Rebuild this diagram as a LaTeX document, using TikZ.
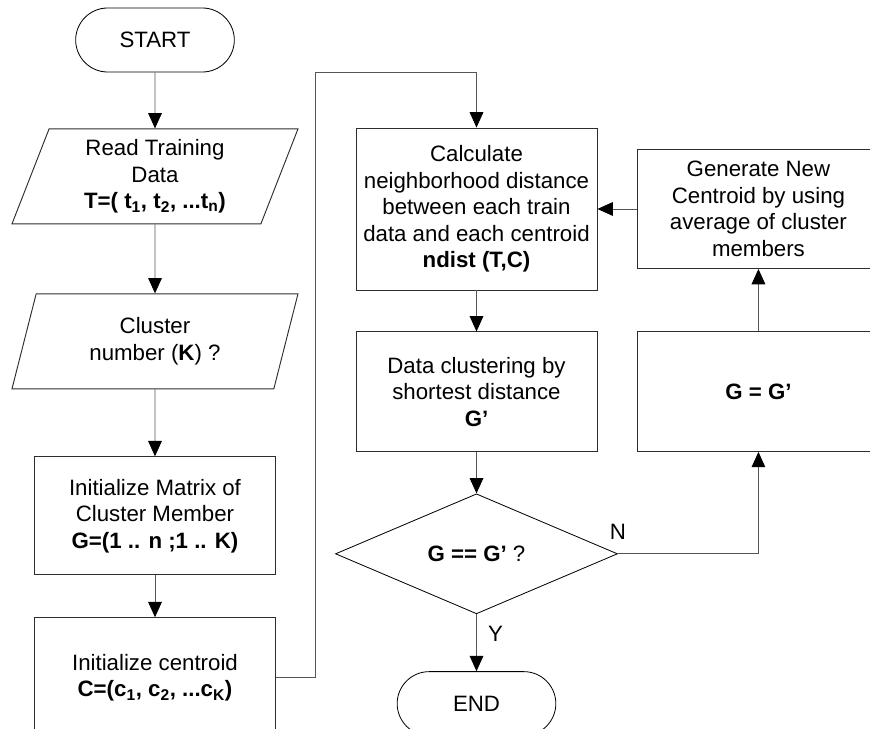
\documentclass[tikz,border=0pt]{standalone}
\usepackage{fontspec}
\setmainfont{Liberation Sans}
\usetikzlibrary{arrows.meta,positioning,shapes.geometric,shapes.misc}
\definecolor{linegray}{RGB}{85,85,85}
\definecolor{boxgray}{RGB}{45,45,45}

\begin{document}
\begin{tikzpicture}[
    x=0.3mm, y=-0.3mm,
    >={Triangle[length=4.6mm, width=4.1mm, color=black]},
    font=\fontsize{19}{22.6}\selectfont,
    every node/.style={inner sep=1pt},
    flow/.style={->, draw=linegray, line width=0.8pt},
    term/.style={draw=black, line width=0.7pt, rounded rectangle,
                 minimum width=48.3mm, minimum height=19.2mm},
    io/.style={draw=boxgray, line width=0.8pt, trapezium, trapezium left angle=64,
               trapezium right angle=116, trapezium stretches body,
               minimum width=85.8mm, minimum height=28.5mm, align=center},
    proc/.style={draw=boxgray, line width=0.8pt, rectangle, minimum width=72.3mm,
                 align=center},
    test/.style={draw=black, line width=0.7pt, diamond, aspect=2.35,
                 minimum width=84.6mm, minimum height=36mm},
  ]
  \useasboundingbox (0,0) rectangle (870,729);
  \clip (0,0) rectangle (870,729);

  % left column
  \node[term] (start) at (155,40) {START};
  \node[io, below=16.8mm of start] (read)
    {Read Training\\Data\\\textbf{T=( t\textsubscript{1}, t\textsubscript{2}, ...t\textsubscript{n})}};
  \node[io, below=20.7mm of read] (knum) {Cluster\\number (\textbf{K}) ?};
  \node[proc, minimum height=35.4mm, below=20.1mm of knum] (initmat)
    {Initialize Matrix of\\Cluster Member\\\textbf{G=(1 .. n ;1 .. K)}};
  \node[proc, minimum height=36mm, below=12.6mm of initmat] (initcen)
    {Initialize centroid\\\textbf{C=(c\textsubscript{1}, c\textsubscript{2}, ...c\textsubscript{K})}};

  % middle column
  \node[proc, minimum height=48.6mm] (calc) at (476.5,209)
    {Calculate\\neighborhood distance\\between each train\\data and each centroid\\\textbf{ndist (T,C)}};
  \node[proc, minimum height=36mm, below=12.3mm of calc] (clus)
    {Data clustering by\\shortest distance\\\textbf{G’}};
  \node[test, below=12.3mm of clus] (check) {\textbf{G == G’} ?};
  \node[term, below=17.1mm of check] (finish) {END};

  % right column
  \node[proc, minimum height=35.7mm, right=12mm of calc] (newcen)
    {Generate New\\Centroid by using\\average of cluster\\members};
  \node[proc, minimum height=36mm, below=18.6mm of newcen] (update) {\textbf{G = G’}};

  \draw[flow] (start) -- (read);
  \draw[flow] (read) -- (knum);
  \draw[flow] (knum) -- (initmat);
  \draw[flow] (initmat) -- (initcen);
  \coordinate (loop) at (315,72);
  \draw[flow] (initcen.east) -| (loop) -| (calc.north);
  \draw[flow] (calc) -- (clus);
  \draw[flow] (clus) -- (check);
  \draw[flow] (check) -- node[pos=0.35, right=3mm] {Y} (finish);
  \draw[flow] (check.east) -| node[pos=0, above=3.8mm] {N} (update.south);
  \draw[flow] (update) -- (newcen);
  \draw[flow] (newcen) -- (calc);
\end{tikzpicture}
\end{document}
